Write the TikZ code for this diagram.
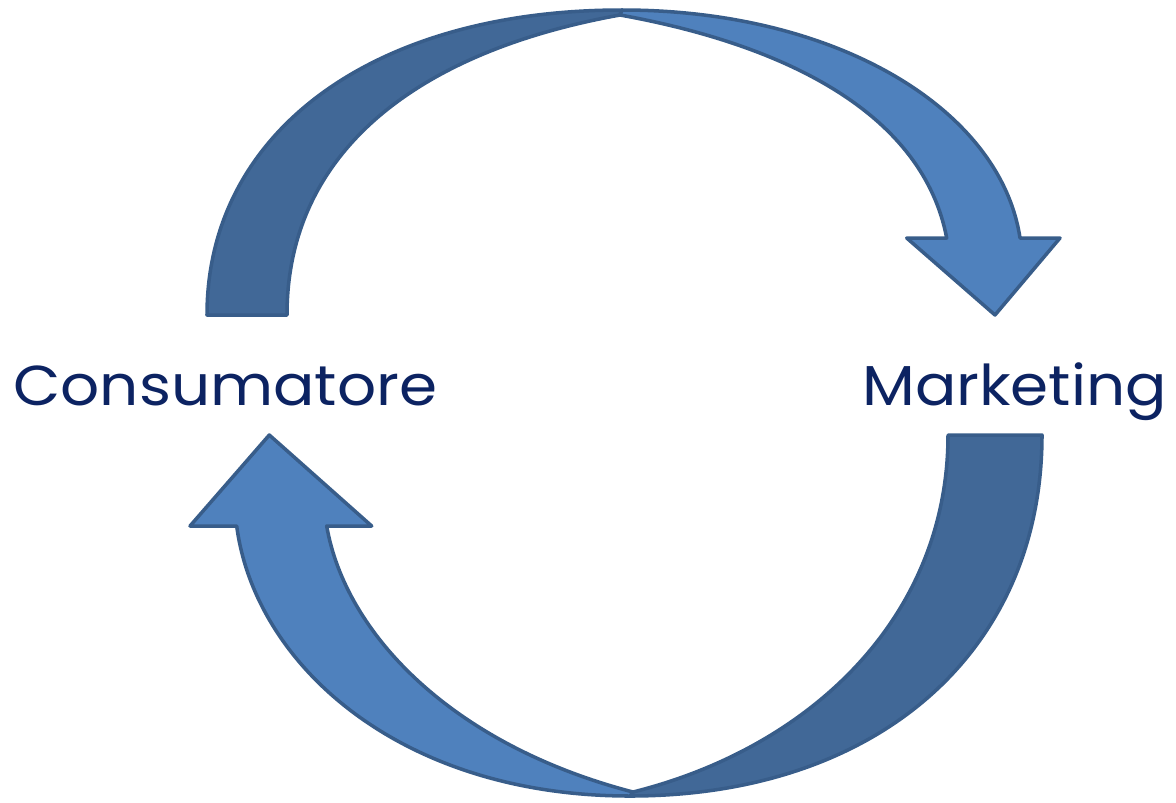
\documentclass[tikz,border=0pt]{standalone}
\usepackage{fontspec}
\setmainfont{Poppins}[FakeStretch=1.09]
\definecolor{backblue}{RGB}{65,104,151}
\definecolor{frontblue}{RGB}{79,129,189}
\definecolor{edgeblue}{RGB}{56,93,138}
\definecolor{navy}{RGB}{12,35,98}
\begin{document}
\begin{tikzpicture}[x=0.02cm,y=-0.02cm,line join=round,
  band/.style={draw=edgeblue,line width=2pt},
  word/.style={font=\fontsize{32}{38}\selectfont,text=navy,inner sep=0pt}]
\useasboundingbox (0,0) rectangle (1176,802);

% upper arrow: rear half (dark) rising from the left
\path[band,fill=backblue] (207,315) .. controls (207,132) and (373,10) .. (622,10)
  -- (620,15) .. controls (420,51) and (287,150) .. (287,315) -- cycle;
% upper arrow: front half with its head
\path[band,fill=frontblue] (620,15) -- (622,10)
  .. controls (837,10) and (1000.5,109.3) .. (1020,238)
  -- (1060,238) -- (995,315) -- (906.7,238) -- (946.7,238)
  .. controls (923.25,115.5) and (790,45.6) .. (620,15) -- cycle;

% lower arrow: rear half (dark) rising on the right
\path[band,fill=backblue] (630,796) .. controls (877,796) and (1042,652) .. (1042,435)
  -- (948,435) .. controls (948,615) and (813,747) .. (633,792) -- cycle;
% lower arrow: front half with its head
\path[band,fill=frontblue] (269.3,435) -- (371.7,526) -- (326.7,526)
  .. controls (345.4,634.4) and (453,745.2) .. (633,792) -- (630,796)
  .. controls (400,796) and (254.9,664.6) .. (236.7,526) -- (190,526) -- cycle;

\node[word,anchor=base west] (consumer) at (13,405) {Consumatore};
\node[word,anchor=base west] (marketing) at (862,405) {Marketing};
\end{tikzpicture}
\end{document}
